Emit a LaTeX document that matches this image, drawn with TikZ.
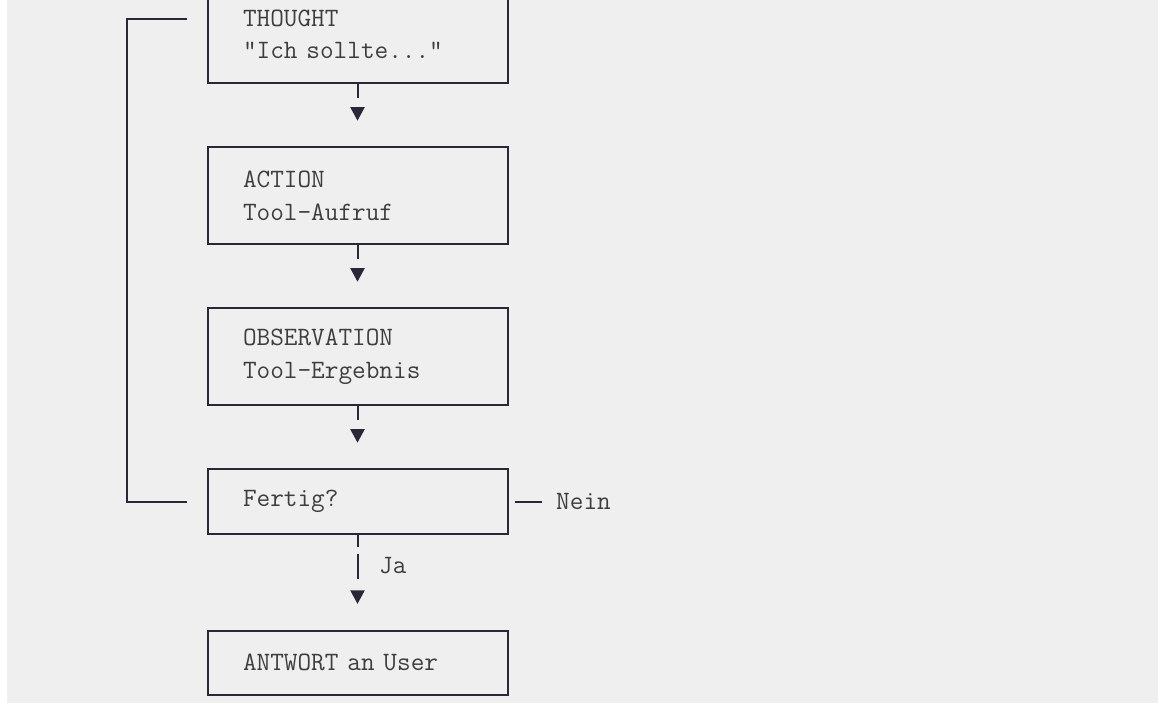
\documentclass[tikz,border=0pt]{standalone}
\usepackage{fontspec}
\usetikzlibrary{arrows.meta}

\definecolor{bgpanel}{RGB}{239,239,239}
\definecolor{boxline}{RGB}{40,40,56}
\definecolor{monotext}{RGB}{62,62,62}

\tikzset{
  stepbox/.style={draw=boxline, line width=2pt, inner xsep=35.5pt, text width=229pt,
    align=left, text=monotext, font=\ttfamily\fontsize{26.5}{32.2}\selectfont},
  flow/.style={draw=boxline, line width=2pt, dash pattern=on 14pt off 200pt,
    -{Triangle[length=13.5pt,width=14pt]}, shorten >=25.7pt},
  loopline/.style={draw=boxline, line width=2pt},
  lbl/.style={anchor=west, inner sep=0pt, text=monotext, font=\ttfamily\fontsize{26.5}{32.2}\selectfont}
}

\begin{document}
\begin{tikzpicture}[x=1pt,y=1pt,yscale=-1]
			\useasboundingbox (0,0) rectangle (1158,704);
			\clip (0,0) rectangle (1158,704);
			%panel
			\fill[bgpanel] (7,0) rectangle (1158,703);

			% Boxes
			\node[stepbox, minimum height=96.6pt] (thought) at (357.5,34.7) {THOUGHT\\"Ich sollte..."};
			\node[stepbox, minimum height=96.6pt] (action) at (357.5,195.7) {ACTION\\Tool-Aufruf};
			\node[stepbox, minimum height=96.6pt] (obs) at (357.5,356.7) {OBSERVATION\\Tool-Ergebnis};
			\node[stepbox, minimum height=64.4pt] (fertig) at (357.5,501.6) {Fertig?};
			\node[stepbox, minimum height=64.2pt] (antwort) at (357.5,662.7) {ANTWORT an User};

			% Text Node
			\node[lbl] (ja) at (379,566) {Ja};
			% Text Node
			\node[lbl] (nein) at (556,501.6) {Nein};
			\coordinate (loopin) at (187,18.6);

			% Arrows
			\draw[flow] (thought.south) -- (action.north);
			\draw[flow] (action.south) -- (obs.north);
			\draw[flow] (obs.south) -- (fertig.north);
			\draw[flow, dash pattern=on 12pt off 7pt on 25pt off 200pt] (fertig.south) -- (antwort.north);

			% Nein
			\draw[loopline] ([xshift=6.5pt]fertig.east) -- ([xshift=-14pt]nein.west);
			% back to THOUGHT
			\draw[loopline] ([xshift=-20pt]fertig.west) -- ++(-60pt,0) |- (loopin);
\end{tikzpicture}
\end{document}
